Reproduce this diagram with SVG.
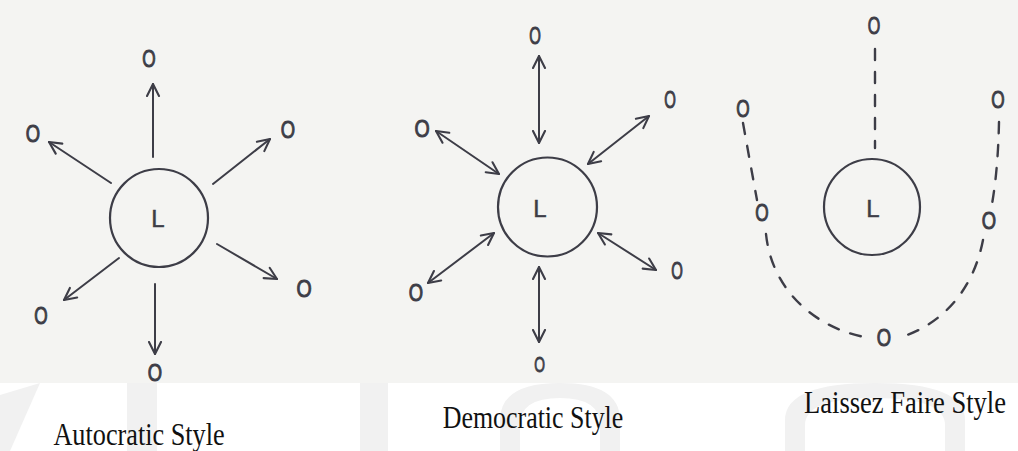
<svg xmlns="http://www.w3.org/2000/svg" width="1018" height="451" viewBox="0 0 1018 451">
<defs>
<style>
.ln{stroke:#3d3d47;stroke-width:2;fill:none;stroke-linecap:round}
.ds{stroke:#3d3d47;stroke-width:2.4;fill:none;stroke-linecap:round;stroke-dasharray:11 12}
.ring{stroke:#3d3d47;stroke-width:2.2;fill:none}
.o{font-family:"Liberation Sans",Arial,sans-serif;font-size:23px;fill:#3d3d47;stroke:#3d3d47;stroke-width:1;text-anchor:middle}
.l{font-family:"Liberation Sans",Arial,sans-serif;font-size:24px;fill:#3d3d47;stroke:#3d3d47;stroke-width:0.5;text-anchor:middle}
.cap{font-family:"Liberation Serif","Times New Roman",serif;font-size:32px;fill:#111;text-anchor:middle}
.wm{fill:#f1f1f1}
</style>
<marker id="ah" viewBox="0 0 10 10" refX="9" refY="5" markerWidth="7.5" markerHeight="7.5" orient="auto-start-reverse" markerUnits="strokeWidth">
<path d="M1,1 L9,5 L1,9" fill="none" stroke="#3d3d47" stroke-width="1.4" stroke-linecap="round" stroke-linejoin="round"/>
</marker>
</defs>
<rect x="0" y="0" width="1018" height="451" fill="#ffffff"/>
<g id="watermark">
<path class="wm" d="M0,395 L40,383 L10,451 L0,451 Z"/>
<rect class="wm" x="127" y="383" width="30" height="68"/>
<rect class="wm" x="360" y="383" width="28" height="68"/>
<path class="wm" d="M500,451 L500,420 Q500,383 560,383 Q620,383 620,420 L620,451 L600,451 L600,425 Q600,398 560,398 Q520,398 520,425 L520,451 Z"/>
<path class="wm" d="M785,451 L785,420 Q785,383 875,383 Q965,383 965,420 L965,451 L945,451 L945,425 Q945,398 875,398 Q805,398 805,425 L805,451 Z"/>
</g>
<rect x="0" y="0" width="1018" height="383" fill="#f4f4f2"/>

<g id="connectors">
<line class="ln" x1="153" y1="157" x2="153" y2="84" marker-end="url(#ah)"/>
<line class="ln" x1="111" y1="183" x2="49" y2="142" marker-end="url(#ah)"/>
<line class="ln" x1="213" y1="184" x2="270" y2="139" marker-end="url(#ah)"/>
<line class="ln" x1="217" y1="244" x2="277" y2="279" marker-end="url(#ah)"/>
<line class="ln" x1="119" y1="258" x2="64" y2="300" marker-end="url(#ah)"/>
<line class="ln" x1="155" y1="284" x2="155" y2="354" marker-end="url(#ah)"/>
<line class="ln" x1="539" y1="56" x2="539" y2="143" marker-start="url(#ah)" marker-end="url(#ah)"/>
<line class="ln" x1="436" y1="131" x2="499" y2="174" marker-start="url(#ah)" marker-end="url(#ah)"/>
<line class="ln" x1="649" y1="116" x2="588" y2="164" marker-start="url(#ah)" marker-end="url(#ah)"/>
<line class="ln" x1="598" y1="233" x2="656" y2="270" marker-start="url(#ah)" marker-end="url(#ah)"/>
<line class="ln" x1="494" y1="233" x2="428" y2="283" marker-start="url(#ah)" marker-end="url(#ah)"/>
<line class="ln" x1="539" y1="267" x2="539" y2="342" marker-start="url(#ah)" marker-end="url(#ah)"/>
<line class="ds" x1="875" y1="49" x2="875" y2="148"/>
<path class="ds" d="M743,123 Q750,162 757,200"/>
<path class="ds" d="M766,234 C772,292 818,330 870,338"/>
<path class="ds" d="M999,122 Q998,170 992,204"/>
<path class="ds" d="M983,240 C973,292 940,326 898,338"/>
</g>

<g id="leader-autocratic"><circle class="ring" cx="159" cy="218" r="49"/><text class="l" x="158" y="226.5">L</text></g>
<g id="leader-democratic"><circle class="ring" cx="547.5" cy="207" r="49.5"/><text class="l" x="540" y="216.5">L</text></g>
<g id="leader-laissez"><circle class="ring" cx="872" cy="207" r="48"/><text class="l" x="873" y="216.5">L</text></g>

<g id="a-o1" transform="translate(149,67) scale(0.75,1)"><text class="o">O</text></g>
<g id="a-o2" transform="translate(33,141.5) scale(0.8,1)"><text class="o">O</text></g>
<g id="a-o3" transform="translate(288,137.5) scale(0.8,1)"><text class="o">O</text></g>
<g id="a-o4" transform="translate(304,296.5) scale(0.85,1)"><text class="o">O</text></g>
<g id="a-o5" transform="translate(41,323.5) scale(0.75,1)"><text class="o">O</text></g>
<g id="a-o6" transform="translate(155,380.5) scale(0.8,1)"><text class="o">O</text></g>

<g id="d-o1" transform="translate(535,43.5) scale(0.65,1)"><text class="o">O</text></g>
<g id="d-o2" transform="translate(422,136.5) scale(0.85,1)"><text class="o">O</text></g>
<g id="d-o3" transform="translate(670,107.5) scale(0.65,1)"><text class="o">O</text></g>
<g id="d-o4" transform="translate(677,278.5) scale(0.65,1)"><text class="o">O</text></g>
<g id="d-o5" transform="translate(416,300.5) scale(0.8,1)"><text class="o">O</text></g>
<g id="d-o6" transform="translate(539.5,372) scale(0.6,0.95)"><text class="o">O</text></g>

<g id="l-o1" transform="translate(874,33.5) scale(0.7,1)"><text class="o">O</text></g>
<g id="l-o2" transform="translate(743,116.5) scale(0.75,1)"><text class="o">O</text></g>
<g id="l-o3" transform="translate(762,220.5) scale(0.75,1)"><text class="o">O</text></g>
<g id="l-o4" transform="translate(884,345.5) scale(0.8,1)"><text class="o">O</text></g>
<g id="l-o5" transform="translate(998,107.5) scale(0.75,1)"><text class="o">O</text></g>
<g id="l-o6" transform="translate(989,228.5) scale(0.8,1)"><text class="o">O</text></g>

<g id="captions">
<text class="cap" transform="translate(139,445) scale(0.82,1)">Autocratic Style</text>
<text class="cap" transform="translate(533,428) scale(0.81,1)">Democratic Style</text>
<text class="cap" transform="translate(905,413) scale(0.83,1)">Laissez Faire Style</text>
</g>
</svg>
